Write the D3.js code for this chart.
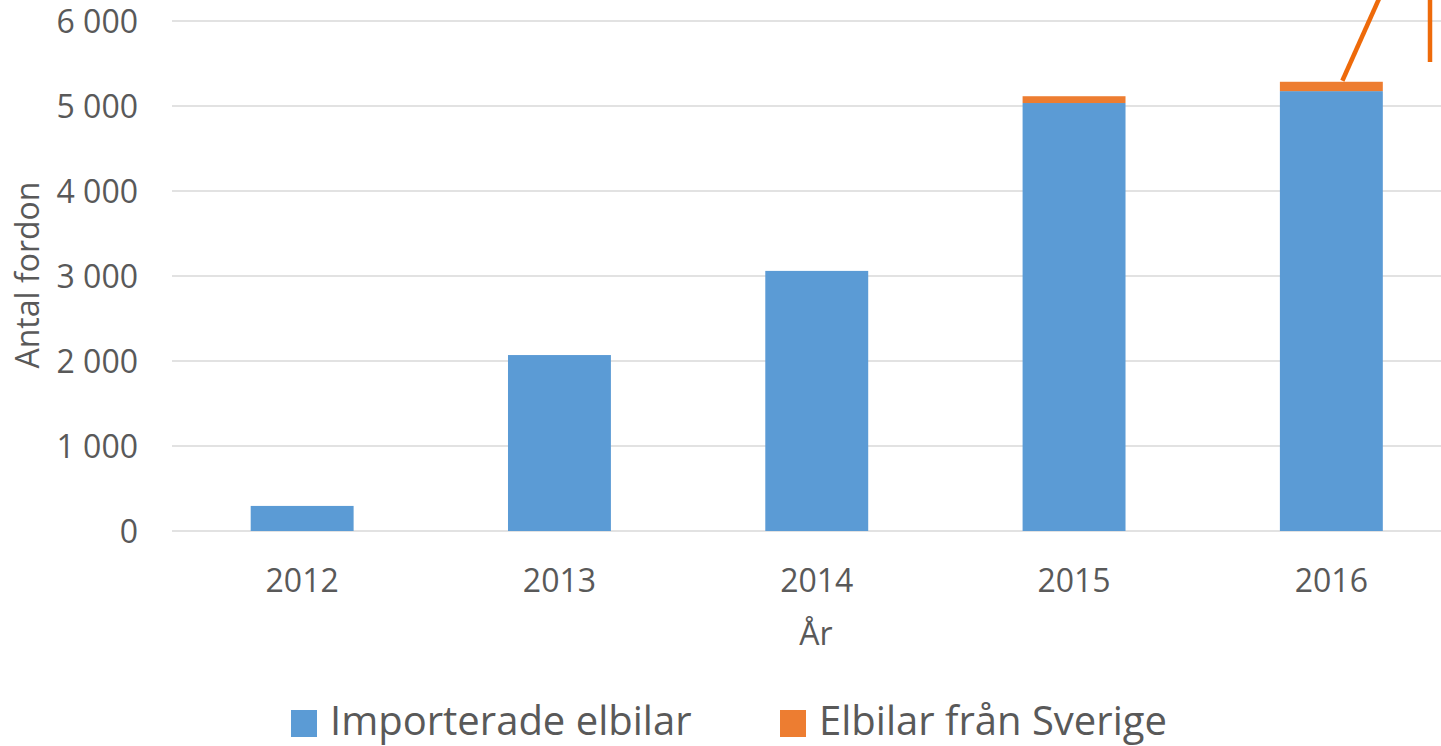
<!DOCTYPE html>
<html><head><meta charset="utf-8">
<script src="https://cdn.jsdelivr.net/npm/d3@7"></script>
<style>html,body{margin:0;padding:0;background:#fff;overflow:hidden}</style>
</head><body>
<svg id="chart" width="1441" height="746"></svg>
<script>
const years = ["2012","2013","2014","2015","2016"];
const imported = [295, 2070, 3060, 5035, 5175];
const fromSweden = [0, 0, 0, 80, 110];
const yTicks = [0,1000,2000,3000,4000,5000,6000];
const seriesNames = ["Importerade elbilar","Elbilar från Sverige"];
const colors = ["#5B9BD5","#ED7D31"];

const svg = d3.select("#chart");
const font = "'Open Sans', sans-serif";
const textColor = "#595959";

const x = d3.scaleBand().domain(years).range([173.5,1460]).paddingInner(0.6).paddingOuter(0.3);
const y = d3.scaleLinear().domain([0,6000]).range([531,21]);

// gridlines
svg.append("g").selectAll("line").data(yTicks).join("line")
  .attr("x1",172).attr("x2",1441)
  .attr("y1",d=>y(d)).attr("y2",d=>y(d))
  .attr("stroke","#d9d9d9").attr("stroke-width",1.5);

// y axis labels
const fmt = d => d3.format(",")(d).replace(/,/g," ");
svg.append("g").selectAll("text").data(yTicks).join("text")
  .attr("x",138).attr("y",d=>y(d)).attr("dy","0.36em")
  .attr("text-anchor","end").attr("fill",textColor)
  .style("font-family",font).style("font-size","32px")
  .text(d=>fmt(d));

// stacked data
const rows = years.map((yr,i)=>({year:yr, a:imported[i], b:fromSweden[i]}));
const stack = d3.stack().keys(["a","b"])(rows);
svg.append("g").selectAll("g").data(stack).join("g")
  .attr("fill",(d,i)=>colors[i])
  .selectAll("rect").data(d=>d).join("rect")
  .attr("x",d=>x(d.data.year)).attr("width",x.bandwidth())
  .attr("y",d=>y(d[1])).attr("height",d=>Math.max(0,y(d[0])-y(d[1])));

// x labels
svg.append("g").selectAll("text").data(years).join("text")
  .attr("x",d=>x(d)+x.bandwidth()/2).attr("y",580).attr("dy","0.36em")
  .attr("text-anchor","middle").attr("fill",textColor)
  .style("font-family",font).style("font-size","32px")
  .text(d=>d);

// axis titles
svg.append("text").attr("x",816).attr("y",633).attr("dy","0.36em")
  .attr("text-anchor","middle").attr("fill",textColor)
  .style("font-family",font).style("font-size","32px").text("År");
svg.append("text").attr("transform","translate(27,"+275+") rotate(-90)")
  .attr("dy","0.36em").attr("text-anchor","middle").attr("fill",textColor)
  .style("font-family",font).style("font-size","32px").text("Antal fordon");

// annotation lines (callout)
const last = years.length-1;
const topLast = y(imported[last]+fromSweden[last]);
svg.append("line").attr("x1",x(years[last])+x.bandwidth()/2+11).attr("y1",topLast-1)
  .attr("x2",x(years[last])+x.bandwidth()/2+48).attr("y2",-2)
  .attr("stroke","#EE6A0A").attr("stroke-width",4.5);
svg.append("line").attr("x1",1430).attr("x2",1430).attr("y1",0).attr("y2",62)
  .attr("stroke","#EE6A0A").attr("stroke-width",4.5);

// legend
const legX = [291, 780];
const lg = svg.append("g").selectAll("g").data(seriesNames).join("g")
  .attr("transform",(d,i)=>`translate(${legX[i]},710)`);
lg.append("rect").attr("width",26).attr("height",27).attr("fill",(d,i)=>colors[i]);
lg.append("text").attr("x",39).attr("y",25)
  .attr("fill",textColor).style("font-family",font).style("font-size","40px")
  .text(d=>d);
</script>
</body></html>
